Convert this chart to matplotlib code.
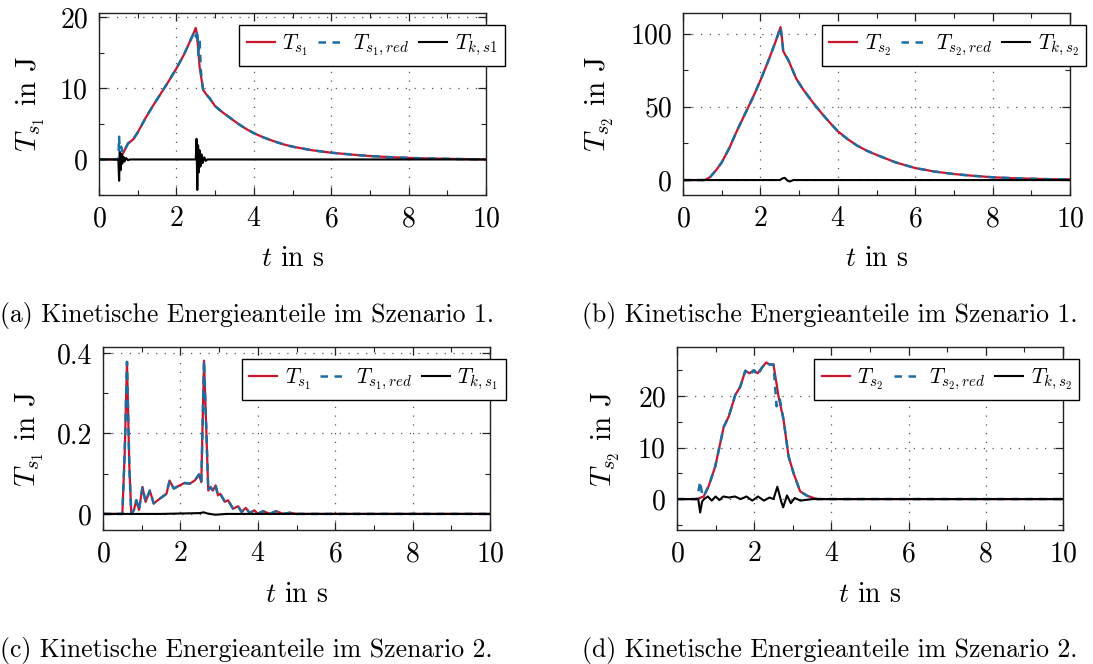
import matplotlib
matplotlib.use("Agg")
import matplotlib.pyplot as plt
from matplotlib.ticker import MultipleLocator

plt.rcParams['font.family'] = ['cmr10', 'DejaVu Serif']
plt.rcParams['mathtext.fontset'] = 'cm'
plt.rcParams['axes.formatter.use_mathtext'] = True
plt.rcParams['axes.unicode_minus'] = False

RED = '#c8162f'
BLUE = '#1a6ea2'

# ---------------- Data: panel (a) Szenario 1, s1 ----------------
a_t = [0, 0.5, 0.53, 0.62, 0.75, 0.88, 1.0, 1.2, 1.4, 1.6, 1.8, 2.0, 2.2, 2.4, 2.5,
       2.53, 2.6, 2.69, 2.78, 2.86, 3.0, 3.2, 3.4, 3.6, 3.8, 4.0, 4.25, 4.5, 4.75,
       5.0, 5.5, 6.0, 6.5, 7.0, 7.5, 8.0, 8.5, 9.0, 9.5, 10.0]
a_ts = [0, 0, 0, 0.85, 2.25, 2.8, 3.8, 5.8, 7.6, 9.3, 11.0, 12.8, 14.8, 17.2, 18.5,
        17.7, 13.0, 9.8, 9.1, 8.6, 7.5, 6.6, 5.8, 5.0, 4.3, 3.7, 3.1, 2.6, 2.15,
        1.8, 1.3, 0.95, 0.7, 0.48, 0.33, 0.22, 0.14, 0.09, 0.04, 0.0]
a_tr_t = [0, 0.5, 0.52, 0.54, 0.57, 0.62, 0.75, 0.88, 1.0, 1.2, 1.4, 1.6, 1.8, 2.0,
          2.2, 2.4, 2.48, 2.51, 2.54, 2.57, 2.6, 2.63, 2.69, 2.78, 2.86, 3.0, 3.2,
          3.4, 3.6, 3.8, 4.0, 4.25, 4.5, 4.75, 5.0, 5.5, 6.0, 6.5, 7.0, 7.5, 8.0,
          8.5, 9.0, 9.5, 10.0]
a_tr = [0, 0, 3.2, 0.4, 1.8, 0.9, 2.25, 2.8, 3.8, 5.8, 7.6, 9.3, 11.0, 12.8,
        14.8, 17.2, 18.0, 17.2, 18.2, 14.5, 17.0, 12.5, 9.8, 9.1, 8.6, 7.5, 6.6,
        5.8, 5.0, 4.3, 3.7, 3.1, 2.6, 2.15, 1.8, 1.3, 0.95, 0.7, 0.48, 0.33, 0.22,
        0.14, 0.09, 0.04, 0.0]
a_tk_t = [0, 0.5, 0.52, 0.54, 0.56, 0.58, 0.6, 0.63, 0.66, 0.7, 0.75, 0.8, 2.5,
          2.52, 2.54, 2.56, 2.58, 2.6, 2.62, 2.65, 2.68, 2.72, 2.76, 2.8, 10.0]
a_tk = [0, 0, -3.0, 1.0, -1.5, 0.8, -0.6, 0.4, -0.3, 0.2, -0.1, 0, 0,
        2.9, -4.3, 2.0, -1.8, 1.3, -1.0, 0.7, -0.5, 0.3, -0.2, 0, 0]

# ---------------- Data: panel (b) Szenario 1, s2 ----------------
b_t = [0, 0.56, 0.7, 0.86, 1.0, 1.2, 1.4, 1.6, 1.8, 2.0, 2.2, 2.4, 2.52, 2.56, 2.59,
       2.65, 2.72, 2.8, 2.93, 3.1, 3.36, 3.6, 3.8, 4.0, 4.25, 4.5, 4.75, 5.0, 5.5,
       6.0, 6.5, 7.0, 7.5, 8.0, 8.5, 9.0, 9.5, 10.0]
b_ts = [0, 0, 2.0, 6.9, 12.0, 22.0, 34.0, 45.0, 56.0, 68.0, 81.0, 95.0, 104.4, 96.0,
        88.0, 85.0, 82.0, 77.0, 69.0, 62.0, 52.8, 45.0, 39.0, 33.3, 28.0, 23.5,
        20.0, 17.2, 12.0, 8.2, 5.8, 4.1, 2.9, 1.9, 1.3, 0.9, 0.6, 0.5]
b_tr = [0, 0, 2.0, 6.9, 12.0, 22.0, 34.0, 45.0, 56.0, 68.0, 81.0, 95.0, 104.4, 96.0,
        88.0, 85.0, 82.0, 77.0, 69.0, 62.0, 52.8, 45.0, 39.0, 33.3, 28.0, 23.5,
        20.0, 17.2, 12.0, 8.2, 5.8, 4.1, 2.9, 1.9, 1.3, 0.9, 0.6, 0.5]
b_tk_t = [0, 2.5, 2.58, 2.63, 2.7, 2.76, 2.85, 10.0]
b_tk = [0, 0, 1.2, 1.5, -0.4, -1.0, 0, 0]

# ---------------- Data: panel (c) Szenario 2, s1 ----------------
c_t = [0, 0.5, 0.56, 0.62, 0.68, 0.73, 0.8, 0.86, 0.93, 1.02, 1.1, 1.21, 1.31, 1.47,
       1.64, 1.72, 1.83, 1.98, 2.11, 2.24, 2.37, 2.48, 2.54, 2.61, 2.67, 2.72,
       2.78, 2.84, 2.91, 2.97, 3.03, 3.15, 3.23, 3.36, 3.49, 3.58, 3.69, 3.79,
       3.91, 4.0, 4.14, 4.31, 4.47, 4.66, 4.83, 5.0, 10.0]
c_ts = [0, 0, 0.15, 0.378, 0.12, 0.0, 0.01, 0.034, 0.01, 0.067, 0.03, 0.058, 0.026,
        0.038, 0.05, 0.083, 0.063, 0.071, 0.077, 0.075, 0.083, 0.098, 0.079, 0.381,
        0.207, 0.058, 0.067, 0.058, 0.071, 0.046, 0.05, 0.03, 0.034, 0.013, 0.019,
        0.005, 0.015, 0.002, 0.009, 0.0, 0.007, 0.0, 0.007, 0.0, 0.003, 0.0, 0.0]
c_tk_t = [0, 1.5, 2.0, 2.5, 2.6, 2.7, 2.9, 3.2, 10.0]
c_tk = [0, 0.0, 0.001, 0.002, 0.004, 0.001, -0.002, 0.0, 0.0]

# ---------------- Data: panel (d) Szenario 2, s2 ----------------
d_t = [0, 0.52, 0.69, 0.82, 0.99, 1.21, 1.34, 1.51, 1.64, 1.77, 1.88, 1.99, 2.09,
       2.2, 2.31, 2.4, 2.5, 2.63, 2.76, 2.89, 3.02, 3.19, 3.37, 3.63, 10.0]
d_ts = [0, 0, 0.5, 2.5, 6.3, 14.0, 16.0, 20.2, 21.8, 24.9, 24.4, 25.0, 24.4,
        25.5, 26.5, 26.1, 26.1, 19.9, 15.4, 8.3, 5.0, 1.5, 0.65, 0.0, 0.0]
d_tr_t = [0, 0.52, 0.6, 0.66, 0.72, 0.82, 0.99, 1.21, 1.34, 1.51, 1.64, 1.77, 1.88,
          1.99, 2.09, 2.2, 2.31, 2.4, 2.5, 2.58, 2.66, 2.76, 2.89, 3.02, 3.19,
          3.37, 3.63, 10.0]
d_tr = [0, 0, 3.4, 0.5, 1.0, 2.5, 6.3, 14.0, 16.0, 20.2, 21.8, 24.9, 24.0,
        25.0, 24.0, 25.5, 26.5, 26.1, 26.1, 18.0, 19.5, 15.4, 8.3, 5.0, 1.5,
        0.65, 0.0, 0.0]
d_tk_t = [0, 0.55, 0.6, 0.65, 0.7, 0.8, 0.9, 1.0, 1.1, 1.2, 1.35, 1.5, 1.65, 1.8,
          1.95, 2.1, 2.25, 2.4, 2.5, 2.6, 2.7, 2.75, 2.85, 2.95, 3.05, 3.2, 3.5, 10.0]
d_tk = [0, 0, -2.6, -0.5, 0.0, 0.5, -0.3, 0.5, -0.2, 0.5, 0.3, 0.5, 0.0, 0.5,
        -0.3, 0.5, -0.3, 0.3, 0.0, 2.4, -0.5, -1.6, 0.7, -0.8, 0.2, -0.3, 0.0, 0.0]

x_ticks = [0, 2, 4, 6, 8, 10]

captions = ["(a) Kinetische Energieanteile im Szenario 1.",
            "(b) Kinetische Energieanteile im Szenario 1.",
            "(c) Kinetische Energieanteile im Szenario 2.",
            "(d) Kinetische Energieanteile im Szenario 2."]

W, H = 1093, 664
fig = plt.figure(figsize=(W / 100, H / 100), dpi=100)


def px_axes(l, t, r, b):
    return fig.add_axes([l / W, 1 - b / H, (r - l) / W, (b - t) / H])


def style(ax, ylim, ymin, yticks, yticklabels, ylabel, ylab_x):
    ax.set_xlim(0, 10)
    ax.set_ylim(*ylim)
    ax.set_xticks(x_ticks)
    ax.xaxis.set_minor_locator(MultipleLocator(1))
    ax.set_yticks(yticks)
    ax.set_yticklabels(yticklabels)
    ax.yaxis.set_minor_locator(MultipleLocator(ymin))
    ax.tick_params(which='both', direction='in', top=True, right=True,
                   labelsize=20, color='#222222', pad=8)
    ax.tick_params(which='major', length=6, width=0.9)
    ax.tick_params(which='minor', length=3.5, width=0.8)
    ax.grid(True, which='major', linestyle=(0, (1, 6)), color='#555555', lw=0.9)
    for s in ax.spines.values():
        s.set_color('#222222')
        s.set_linewidth(1.0)
    ax.set_xlabel(r'$t$ in s', fontsize=20)
    ax.xaxis.set_label_coords(0.5, -0.28)
    ax.set_ylabel(ylabel, fontsize=21)
    ax.yaxis.set_label_coords(ylab_x, 0.5)


def plot_panel(ax, t1, y1, t2, y2, t3, y3, labels, leg_x):
    ax.plot(t1, y1, color=RED, lw=1.6, label=labels[0])
    ax.plot(t2, y2, color=BLUE, lw=1.8, dashes=(3, 2.6), label=labels[1])
    ax.plot(t3, y3, color='black', lw=1.5, label=labels[2])
    leg = ax.legend(loc='upper left', bbox_to_anchor=(leg_x, 0.935), ncol=3,
                    fontsize=15.5, frameon=True, fancybox=False, edgecolor='black',
                    framealpha=1, borderaxespad=0, handlelength=1.3,
                    handletextpad=0.35, columnspacing=0.45, borderpad=0.35)
    leg.get_frame().set_linewidth(1.0)
    leg.set_clip_on(False)


axa = px_axes(99, 13, 486, 195)
plot_panel(axa, a_t, a_ts, a_tr_t, a_tr, a_tk_t, a_tk,
           [r'$T_{s_1}$', r'$T_{s_1,red}$', r'$T_{k,s1}$'], 0.362)
style(axa, (-5, 20.6), 5, [0, 10, 20], ['0', '10', '20'], r'$T_{s_1}$ in J', -0.135)

axb = px_axes(683, 13, 1070, 195)
plot_panel(axb, b_t, b_ts, b_t, b_tr, b_tk_t, b_tk,
           [r'$T_{s_2}$', r'$T_{s_2,red}$', r'$T_{k,s_2}$'], 0.358)
style(axb, (-10.2, 114), 25, [0, 50, 100], ['0', '50', '100'], r'$T_{s_2}$ in J', -0.172)

axc = px_axes(103, 347, 490, 530)
plot_panel(axc, c_t, c_ts, c_t, c_ts, c_tk_t, c_tk,
           [r'$T_{s_1}$', r'$T_{s_1,red}$', r'$T_{k,s_1}$'], 0.358)
style(axc, (-0.04, 0.415), 0.1, [0, 0.2, 0.4], ['0', '0.2', '0.4'], r'$T_{s_1}$ in J', -0.146)

axd = px_axes(677, 347, 1063, 530)
plot_panel(axd, d_t, d_ts, d_tr_t, d_tr, d_tk_t, d_tk,
           [r'$T_{s_2}$', r'$T_{s_2,red}$', r'$T_{k,s_2}$'], 0.356)
style(axd, (-6, 29.5), 5, [0, 10, 20], ['0', '10', '20'], r'$T_{s_2}$ in J', -0.142)

cap_pos = [(0, 316), (582, 316), (0, 650), (582, 650)]
for (x, y), txt in zip(cap_pos, captions):
    fig.text(x / W, 1 - y / H, txt, fontsize=18.5, ha='left', va='center')

fig.savefig('out.png', dpi=100)
